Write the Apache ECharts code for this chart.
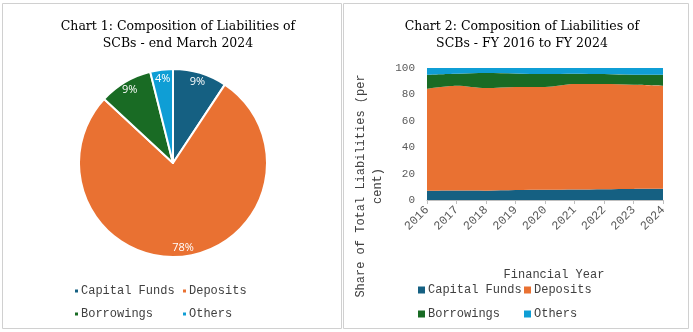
<!DOCTYPE html>
<html>
<head>
<meta charset="utf-8">
<script src="https://cdn.jsdelivr.net/npm/echarts@6/dist/echarts.min.js"></script>
<style>html,body{margin:0;padding:0;background:#fff}#c{width:693px;height:332px}</style>
</head>
<body>
<div id="c"></div>
<script>
var names = ['Capital Funds', 'Deposits', 'Borrowings', 'Others'];
var colors = ['#156082', '#E97132', '#196B24', '#0F9ED5'];
var pieValues = [9.3, 77.6, 9.2, 3.9];
var years = ['2016', '2017', '2018', '2019', '2020', '2021', '2022', '2023', '2024'];
var capitalFunds = [7.0, 7.2, 7.1, 7.5, 7.7, 7.9, 8.2, 8.4, 8.5];
var deposits = [77.3, 79.4, 77.7, 78.1, 77.9, 79.9, 79.6, 78.9, 78.1];
var borrowings = [10.6, 9.1, 11.4, 10.3, 9.8, 7.9, 7.6, 7.6, 8.3];
var others = [5.1, 4.3, 3.8, 4.1, 4.6, 4.3, 4.6, 5.1, 5.1];
var yTicks = [0, 20, 40, 60, 80, 100];

var areaData = [capitalFunds, deposits, borrowings, others];
var mono = '"Liberation Mono", "DejaVu Sans Mono", monospace';
var serif = '"DejaVu Serif", "Liberation Serif", serif';

var chart = echarts.init(document.getElementById('c'), null, {renderer: 'canvas'});

var pieData = names.map(function (n, i) {
  return {name: n, value: pieValues[i], itemStyle: {color: colors[i]}};
});

var series = [
  {
    type: 'pie', name: 'pie', center: [173, 163], radius: [0, 94],
    startAngle: 90, clockwise: true, silent: true,
    itemStyle: {borderColor: '#fff', borderWidth: 2},
    label: {show: false}, labelLine: {show: false},
    data: pieData
  },
  {
    type: 'pie', name: 'pieLabels', center: [173, 163], radius: [70, 94],
    startAngle: 90, clockwise: true, silent: true, legendHoverLink: false,
    itemStyle: {color: 'rgba(0,0,0,0)', borderWidth: 0},
    label: {show: true, position: 'inside', color: '#fff', fontSize: 11,
      fontFamily: '"Open Sans", "Noto Sans", sans-serif',
      formatter: function (p) { return Math.round(p.percent) + '%'; }},
    labelLine: {show: false},
    data: names.map(function (n, i) { return {name: n, value: pieValues[i]}; })
  }
];

names.forEach(function (n, i) {
  series.push({
    type: 'line', name: n, stack: 'total', smooth: 0.3, symbol: 'none',
    lineStyle: {width: 0}, itemStyle: {color: colors[i]},
    areaStyle: {color: colors[i], opacity: 1},
    xAxisIndex: 0, yAxisIndex: 0,
    data: areaData[i]
  });
});

function legendItem(name, left, top, size) {
  return {
    data: [name], left: left, top: top, orient: 'horizontal',
    icon: 'rect', itemWidth: size, itemHeight: size, itemGap: 4,
    selectedMode: false,
    textStyle: {fontFamily: mono, fontSize: 12, color: '#404040', padding: [0, 0, 0, -2]}
  };
}

var option = {
  animation: false,
  backgroundColor: '#fff',
  title: [
    {text: 'Chart 1: Composition of Liabilities of\nSCBs - end March 2024', left: 173, top: 13,
      textAlign: 'center',
      textStyle: {fontFamily: serif, fontSize: 12.5, fontWeight: 'normal', color: '#000', lineHeight: 17}},
    {text: 'Chart 2: Composition of Liabilities of\nSCBs - FY 2016 to FY 2024', left: 517, top: 13,
      textAlign: 'center',
      textStyle: {fontFamily: serif, fontSize: 12.5, fontWeight: 'normal', color: '#000', lineHeight: 17}}
  ],
  legend: [
    legendItem('Capital Funds', 70, 280, 3),
    legendItem('Deposits', 178, 280, 3),
    legendItem('Borrowings', 70, 303, 3),
    legendItem('Others', 178, 303, 3),
    legendItem('Capital Funds', 413, 279, 7),
    legendItem('Deposits', 519, 279, 7),
    legendItem('Borrowings', 413, 303, 7),
    legendItem('Others', 519, 303, 7)
  ],
  grid: {left: 427, top: 68, right: 30, bottom: 132, containLabel: false},
  xAxis: {
    type: 'category', data: years, boundaryGap: false,
    axisLine: {show: true, lineStyle: {color: '#bfbfbf'}},
    axisTick: {show: true, lineStyle: {color: '#bfbfbf'}, length: 4},
    axisLabel: {rotate: 45, fontFamily: mono, fontSize: 12, color: '#595959', margin: 8},
    name: 'Financial Year', nameLocation: 'middle', nameGap: 69,
    nameTextStyle: {fontFamily: mono, fontSize: 12, color: '#404040', padding: [0, 0, 0, 18]}
  },
  yAxis: {
    type: 'value', min: yTicks[0], max: yTicks[yTicks.length - 1], interval: 20,
    axisLine: {show: false}, axisTick: {show: false},
    splitLine: {show: false},
    axisLabel: {fontFamily: mono, fontSize: 11, color: '#595959', margin: 12}
  },
  graphic: [
    {type: 'rect', shape: {x: 2.5, y: 3.5, width: 339, height: 325}, style: {fill: 'none', stroke: '#d0d0d0', lineWidth: 1}, silent: true},
    {type: 'rect', shape: {x: 343.5, y: 3.5, width: 345, height: 325}, style: {fill: 'none', stroke: '#d0d0d0', lineWidth: 1}, silent: true},
    {type: 'text', x: 369.5, y: 186, rotation: Math.PI / 2, silent: true,
      style: {text: 'Share of Total Liabilities (per\ncent)', textAlign: 'center', textVerticalAlign: 'middle',
        font: '12px ' + mono, fill: '#404040', lineHeight: 17}}
  ],
  series: series
};
chart.setOption(option);
</script>
</body>
</html>
